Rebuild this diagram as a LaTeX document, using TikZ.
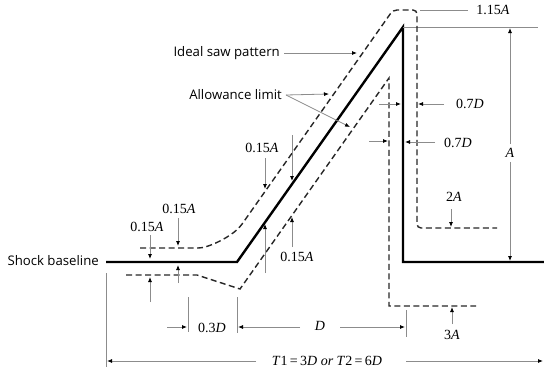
\documentclass[tikz,border=0pt]{standalone}
\usepackage{fontspec}
\setmainfont{Liberation Serif}
\newfontfamily\notefont{Open Sans}
\usetikzlibrary{arrows.meta}

\tikzset{
  saw/.style={line width=2.4pt, black},
  limit/.style={line width=1.4pt, black!85, dash pattern=on 6pt off 3.5pt},
  dimline/.style={line width=0.8pt, black!45},
  dimarrow/.style={dimline, -{Latex[length=5pt,width=4pt,black]}},
  dimlabel/.style={font=\fontsize{14}{16}\selectfont, inner sep=1pt},
  note/.style={font=\notefont\fontsize{13.2}{15}\selectfont, inner sep=1pt},
}

\begin{document}
\begin{tikzpicture}[x=1pt, y=-1pt]
\useasboundingbox (0,0) rectangle (544,370);
% ideal saw pattern
\draw[saw] (106,262) -- (237,262) -- (403,27) -- (403,262) -- (544,262);
\draw[dimline] (403,27) -- (538,27);
% allowance limits
\draw[limit, rounded corners=4pt] (140,248) -- (202,248)
  .. controls (218,243) and (230,236) .. (240,227) -- (393,10) -- (417,10) -- (417,228) -- (497,228);
\draw[limit] (126,275) -- (197,275) -- (240,289) -- (389,78) -- (389,306) -- (476,306);
% notes
\node[note, anchor=east] (ideal) at (281,53) {Ideal saw pattern};
\node[note, anchor=east] (allow) at (283,95) {Allowance limit};
\node[note, anchor=east] (base) at (100,261) {Shock baseline};
\coordinate (idealtip) at (357,53);
\coordinate (uptip) at (329,94);
\coordinate (lowtip) at (350,127);
\draw[dimarrow] ([xshift=3pt]ideal.east) -- (idealtip);
\draw[dimarrow] ([xshift=3pt]allow.east) -- (uptip);
\draw[dimarrow] ([xshift=3pt]allow.east) -- (lowtip);
% peak and height
\node[dimlabel] (peak) at (493,10) {1.15\textit{A}};
\draw[dimline] (420,10) -- (468,10);
\node[dimlabel, inner sep=4pt] (height) at (510,153) {\textit{A}};
\draw[dimarrow] (height.north) -- (510,28);
\draw[dimarrow] (height.south) -- (510,261);
% widths at the drop
\node[dimlabel] (drophi) at (470,104) {0.7\textit{D}};
\draw[dimarrow] (444,104) -- (418,104);
\draw[dimarrow] (379,104) -- (401,104);
\node[dimlabel] (droplo) at (458,143) {0.7\textit{D}};
\draw[dimarrow] (435,142) -- (405,142);
\draw[dimarrow] (369,141) -- (388,141);
\node[dimlabel] (twoA) at (454,197) {2\textit{A}};
\draw[dimarrow] (451,209) -- (451,227);
\node[dimlabel] (threeA) at (452,335) {3\textit{A}};
\draw[dimarrow] (452,324) -- (452,307);
% offsets along the baseline
\node[dimlabel] (offa) at (147,227) {0.15\textit{A}};
\draw[dimarrow] (150,235) -- (150,259);
\draw[dimarrow] (150,302) -- (150,277);
\node[dimlabel] (offb) at (179,209) {0.15\textit{A}};
\draw[dimarrow] (178,218) -- (178,246);
\draw[dimarrow] (178,283) -- (178,265);
% offsets along the rise
\node[dimlabel] (offc) at (262,148) {0.15\textit{A}};
\draw[dimarrow] (265,158) -- (265,189);
\draw[dimarrow] (292,135) -- (292,181);
\node[dimlabel] (offd) at (297,257) {0.15\textit{A}};
\draw[dimarrow] (265,273) -- (265,224);
\draw[dimarrow] (292,247) -- (292,217);
% horizontal dimensions
\draw[dimline] (188,297) -- (188,332);
\draw[dimline] (237,297) -- (237,333);
\draw[dimline] (406,310) -- (406,337);
\draw[dimline] (106,273) -- (106,367);
\node[dimlabel] (ramp) at (212,328) {0.3\textit{D}};
\draw[dimarrow] (167,327) -- (187,327);
\node[dimlabel] (rise) at (320,326) {\textit{D}};
\draw[dimarrow] (300,327) -- (238,327);
\draw[dimarrow] (340,327) -- (405,327);
\node[dimlabel] (period) at (327,361) {\textit{T}1\,=\,3\textit{D} \textit{or} \textit{T}2\,=\,6\textit{D}};
\draw[dimarrow] (256,361) -- (107,361);
\draw[dimarrow] (406,361) -- (543,361);
\end{tikzpicture}
\end{document}
